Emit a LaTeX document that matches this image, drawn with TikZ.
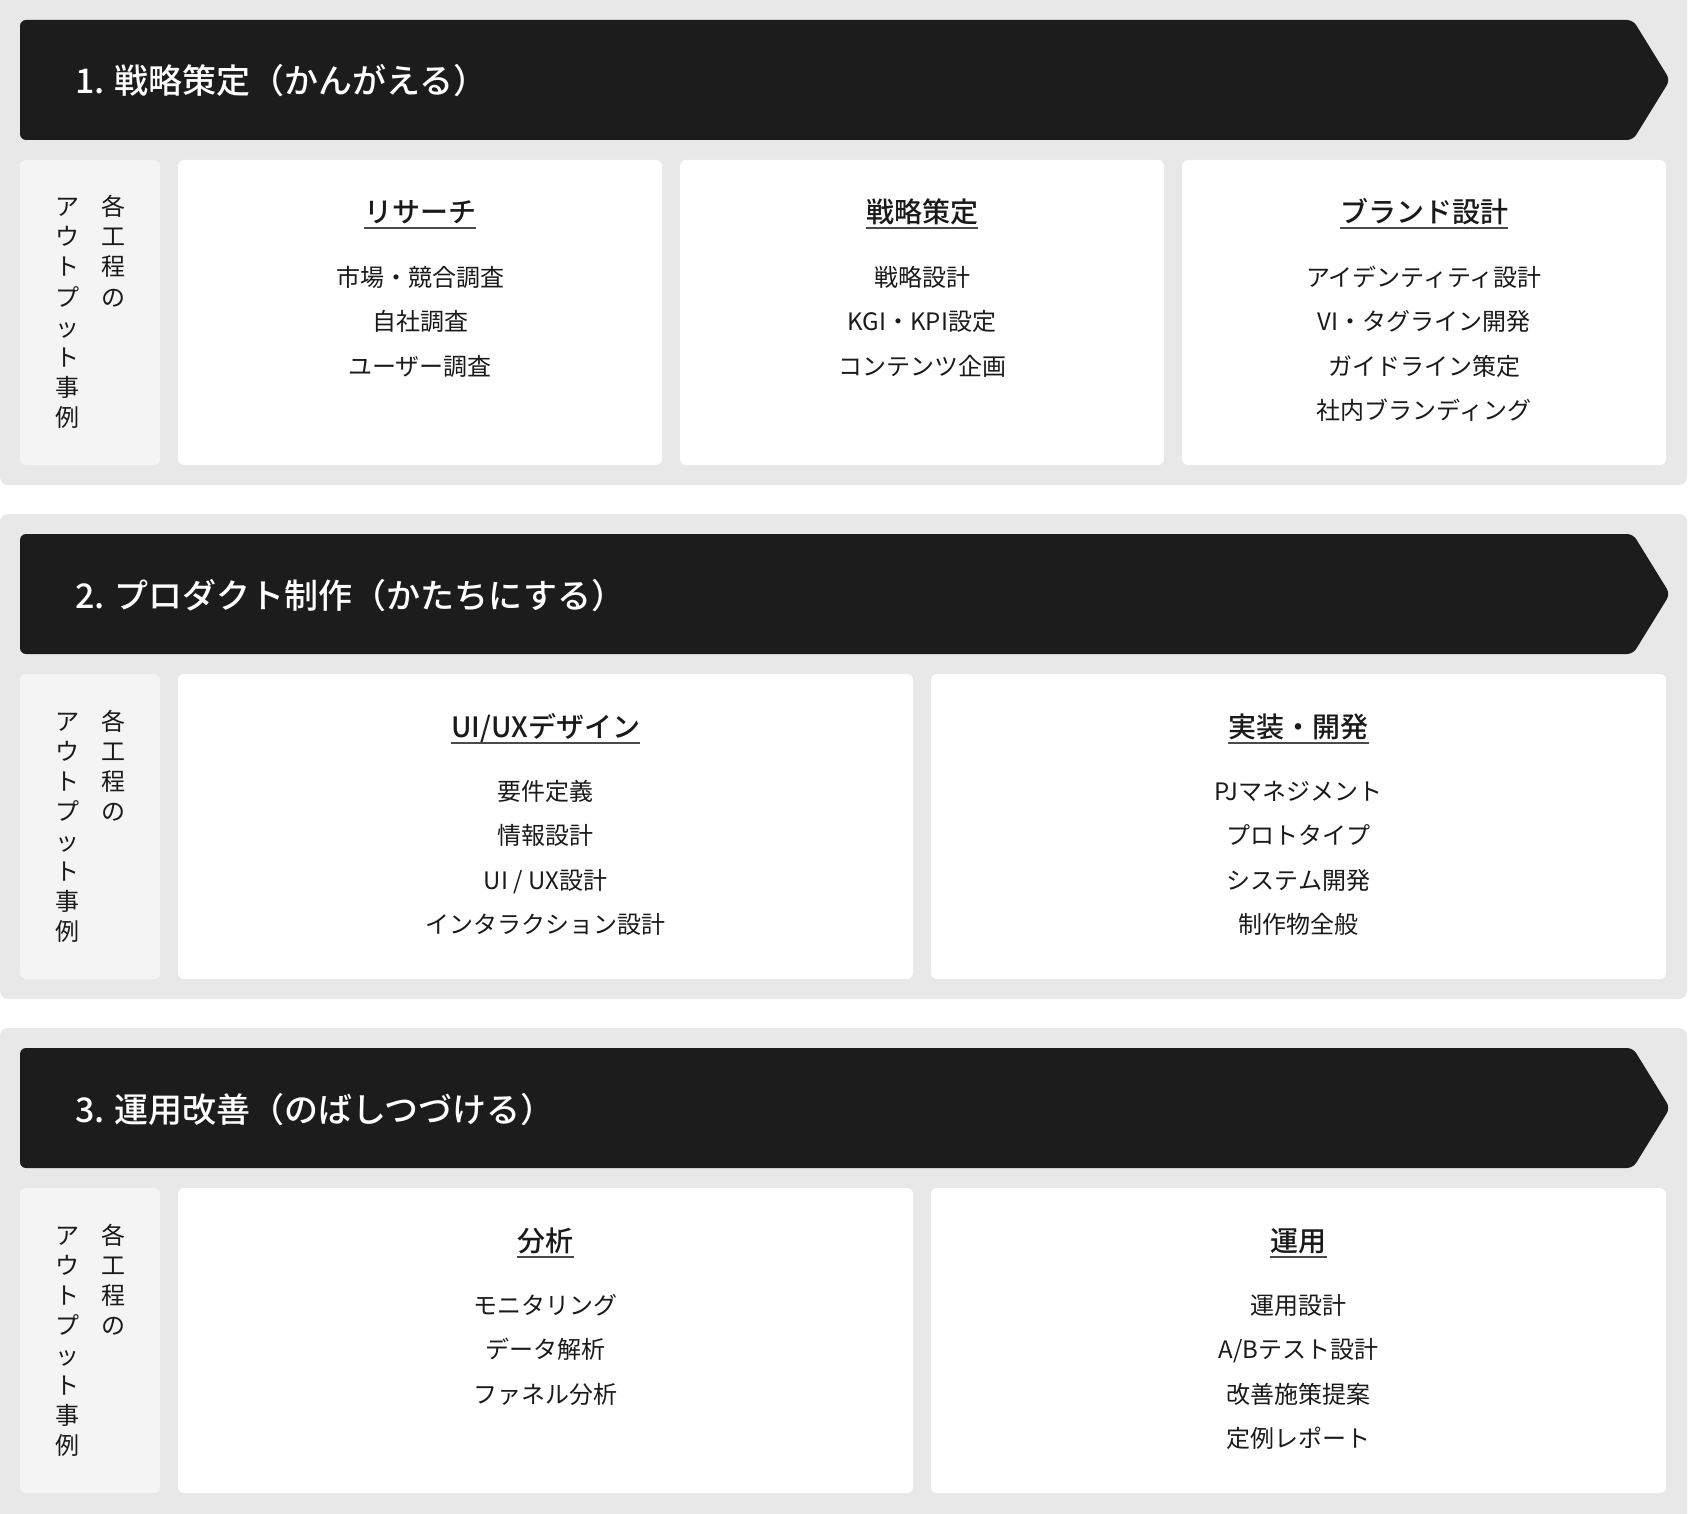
\documentclass[tikz,border=0pt]{standalone}
\usepackage{fontspec}
\setmainfont{Noto Sans CJK JP}
\IfFontExistsTF{Noto Sans CJK JP Medium}
  {\newfontfamily\medfont{Noto Sans CJK JP Medium}}
  {\newfontfamily\medfont[FakeBold=0.6]{Noto Sans CJK JP}}
\definecolor{panelgray}{HTML}{E8E8E8}
\definecolor{labelgray}{HTML}{F4F4F4}
\definecolor{bardark}{HTML}{1C1C1C}
\definecolor{txt}{HTML}{1A1A1A}
\definecolor{ulinegray}{HTML}{4A4A4A}
\tikzset{
  panel/.style={fill=panelgray, rounded corners=8pt},
  barshape/.style={fill=bardark, rounded corners=6pt},
  labelbox/.style={fill=labelgray, rounded corners=6pt},
  card/.style={fill=white, rounded corners=6pt},
  bartitle/.style={anchor=base west, inner sep=0pt, text=white, font=\medfont\fontsize{34}{40}\selectfont},
  cardhead/.style={anchor=base, inner sep=0pt, text=txt, font=\medfont\fontsize{28}{34}\selectfont},
  carditem/.style={anchor=base, inner sep=0pt, text=txt, font=\fontsize{24}{30}\selectfont},
  vchar/.style={anchor=base, inner sep=0pt, text=txt, font=\fontsize{24}{30}\selectfont},
  uline/.style={draw=ulinegray, line width=2pt},
}
% #1 name, #2 x-left, #3 x-right, #4 section top, #5 heading, #6 items
\newcommand{\Card}[6]{%
  \fill[card] (#2,#4+160) rectangle (#3,#4+465);
  \node[cardhead] (#1h) at ({(#2+#3)/2},#4+223) {#5};
  \draw[uline] ([yshift=-5.5pt]#1h.base west) -- ([yshift=-5.5pt]#1h.base east);
  \foreach \t [count=\i from 0] in {#6} {
    \node[carditem] (#1i\i) at ({(#2+#3)/2},#4+286+44.5*\i) {\t};
  }%
}
% #1 name, #2 section top
\newcommand{\VLabel}[2]{%
  \fill[labelbox] (20,#2+160) rectangle (160,#2+465);
  \foreach \c [count=\i from 0] in {各,工,程,の} {
    \node[vchar] (#1a\i) at (113,#2+216+30*\i) {\c};
  }%
  \foreach \c [count=\i from 0] in {ア,ウ,ト,プ,ッ,ト,事,例} {
    \node[vchar] (#1b\i) at (67,#2+216+30*\i) {\c};
  }%
}
% #1 name, #2 section top, #3 title
\newcommand{\Bar}[3]{%
  \fill[barshape] (20,#2+20) -- (1633,#2+20) -- (1670,#2+80) -- (1633,#2+140) -- (20,#2+140) -- cycle;
  \node[bartitle] (#1) at (75,#2+94) {#3};
}
\begin{document}
\begin{tikzpicture}[x=1pt,y=-1pt]
\useasboundingbox (0,0) rectangle (1688,1514);
\fill[white] (0,0) rectangle (1688,1514);
% panels
\fill[panel] (0,-12) rectangle (1687,485);
\fill[panel] (0,514) rectangle (1687,999);
\fill[panel] (0,1028) rectangle (1687,1526);
% section 1
\Bar{t1}{0}{1. 戦略策定（かんがえる）}
\VLabel{v1}{0}
\Card{c1a}{178}{662}{0}{リサーチ}{市場・競合調査,自社調査,ユーザー調査}
\Card{c1b}{680}{1164}{0}{戦略策定}{戦略設計,KGI・KPI設定,コンテンツ企画}
\Card{c1c}{1182}{1666}{0}{ブランド設計}{アイデンティティ設計,VI・タグライン開発,ガイドライン策定,社内ブランディング}
% section 2
\Bar{t2}{514}{2. プロダクト制作（かたちにする）}
\VLabel{v2}{514}
\Card{c2a}{178}{913}{514}{UI/UXデザイン}{要件定義,情報設計,UI / UX設計,インタラクション設計}
\Card{c2b}{931}{1666}{514}{実装・開発}{PJマネジメント,プロトタイプ,システム開発,制作物全般}
% section 3
\Bar{t3}{1028}{3. 運用改善（のばしつづける）}
\VLabel{v3}{1028}
\Card{c3a}{178}{913}{1028}{分析}{モニタリング,データ解析,ファネル分析}
\Card{c3b}{931}{1666}{1028}{運用}{運用設計,A/Bテスト設計,改善施策提案,定例レポート}
\end{tikzpicture}
\end{document}
